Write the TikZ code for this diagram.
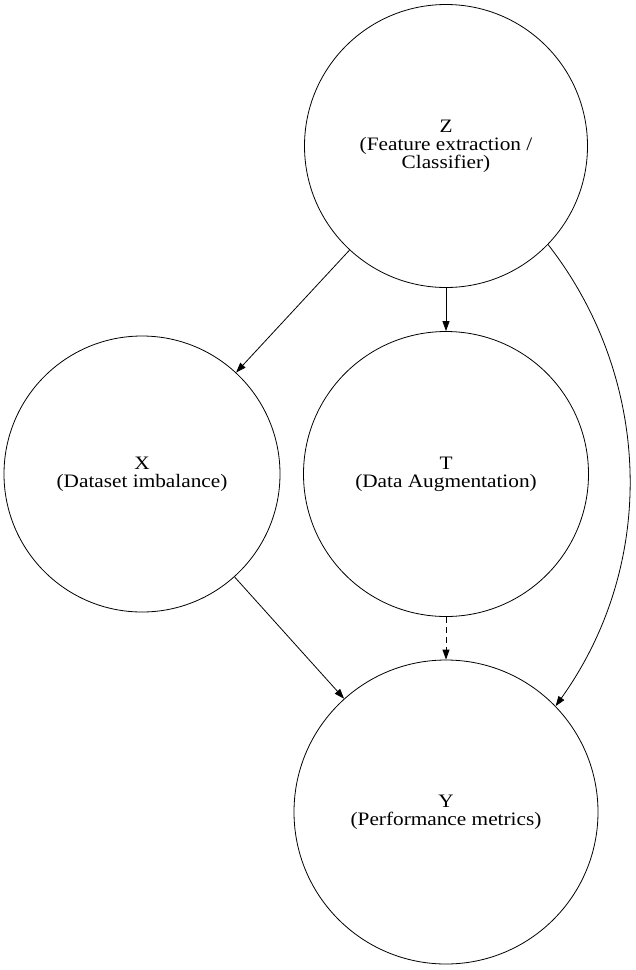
\documentclass[tikz,border=0pt]{standalone}
\usepackage{fontspec}
\setmainfont{Liberation Serif}[FakeStretch=1.12]
\usepackage{tikz}
\usetikzlibrary{shapes,arrows,arrows.meta}
\usetikzlibrary{positioning}
\tikzstyle{var} = [draw, circle, align=center, inner sep=0pt, line width=0.8pt,
    font={\fontsize{19pt}{18pt}\selectfont}]
\tikzstyle{link} = [-{Triangle[length=10pt,width=7pt]}, line width=0.8pt]

\begin{document}
\begin{tikzpicture}[node distance = 328pt]
  \useasboundingbox (0,0) rectangle (636pt,-970pt);
  \node [var, minimum size=283pt] at (446pt,-146pt) (z) {Z\\(Feature extraction /\\Classifier)};
  \node [var, minimum size=285pt, below of=z] (t) {T\\(Data Augmentation)};
  \node [var, minimum size=276pt, left of=t, node distance = 304pt] (x) {X\\(Dataset imbalance)};
  \node [var, minimum size=304pt, below of=t, node distance = 338pt] (y) {Y\\(Performance metrics)};
  \draw [link] (z) -- (x);
  \draw [link] (z) -- (t);
  \draw [link] (z.-44) .. controls (650pt,-375pt) and (660pt,-560pt) .. (y.44);
  \draw [link] (x) -- (y);
  \draw [link, dash pattern=on 6pt off 4pt] (t) -- (y);
\end{tikzpicture}
\end{document}
